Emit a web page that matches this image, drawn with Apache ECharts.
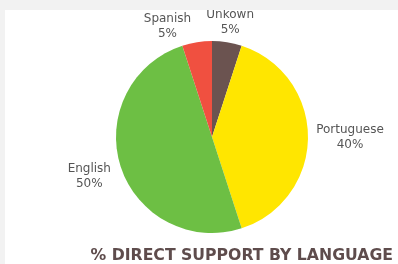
<!DOCTYPE html>
<html lang="en">
<head>
	<meta charset="UTF-8">
	<title>Direct support by language</title>
	<script src="https://cdn.jsdelivr.net/npm/echarts@6/dist/echarts.min.js"></script>
	<style>
		html, body { margin: 0; padding: 0; background: #f2f2f2; }
		#main { position: absolute; left: 5px; top: 10px; width: 393px; height: 254px; background: #fff; }
	</style>
</head>
<body>
	<div id="main"></div>
	<script>
		// data, clockwise from 12 o'clock
		var languages = ['Unkown', 'Portuguese', 'English', 'Spanish'];
		var shares = [5, 40, 50, 5];
		var sliceColors = ['#6b5350', '#ffe600', '#6dbf44', '#f05040'];

		// how far each label sits out from the rim (labelLine is hidden)
		var reach = [[20, 0], [42, 0], [33, 0], [16, 27]];

		var pieData = [];
		for (var i = 0; i < languages.length; i++) {
			pieData.push({
				name: languages[i],
				value: shares[i],
				itemStyle: { color: sliceColors[i] },
				labelLine: { show: false, length: reach[i][0], length2: reach[i][1] }
			});
		}

		var myChart = echarts.init(document.getElementById('main'));
		var option = {
			animation: false,
			title: {
				text: '% DIRECT SUPPORT BY LANGUAGE',
				right: 5,
				top: 238,
				padding: 0,
				textStyle: {
					fontFamily: 'DejaVu Sans',
					fontWeight: 'bold',
					fontSize: 15.7,
					color: '#5e4c4c'
				}
			},
			series: [{
				type: 'pie',
				// wide box so the outside labels are never clipped
				left: 0,
				top: 0,
				width: 800,
				height: 600,
				center: [207, 127],
				radius: 96,
				startAngle: 90,
				clockwise: true,
				avoidLabelOverlap: false,
				data: pieData,
				label: {
					show: true,
					position: 'outside',
					distanceToLabelLine: 0,
					overflow: 'none',
					bleedMargin: 0,
					formatter: '{b}\n{c}%',
					fontFamily: 'DejaVu Sans',
					fontSize: 12,
					lineHeight: 15,
					color: '#555555'
				},
				labelLine: { show: false },
				labelLayout: function () {
					return { align: 'center' };
				},
				emphasis: { disabled: true }
			}]
		};
		myChart.setOption(option);
	</script>
</body>
</html>
